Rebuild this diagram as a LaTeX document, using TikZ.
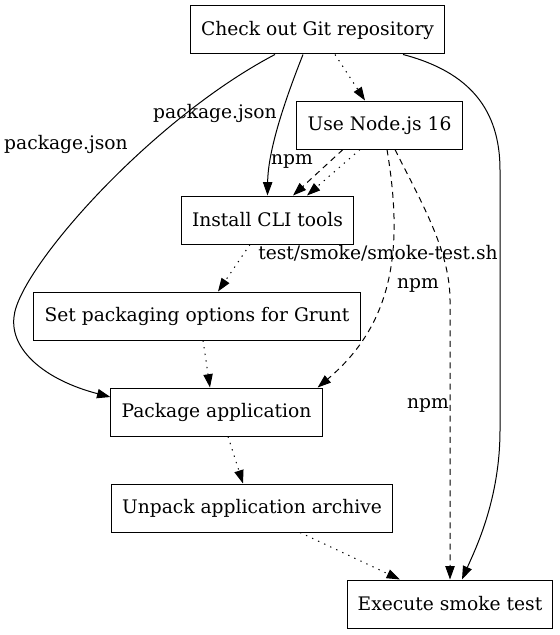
\documentclass[tikz,border=0pt]{standalone}
\usepackage{fontspec}
\setmainfont{DejaVu Serif}
\usepackage{tikz}
\usetikzlibrary{arrows.meta,calc}
\tikzstyle{task}=[draw,rectangle,line width=0.75pt,minimum height=36pt,inner xsep=8pt]
\tikzstyle{lbl}=[inner sep=0pt]

\begin{document}
\begin{tikzpicture}[x=0.75pt,y=-0.75pt,line width=0.75pt,
font=\fontsize{14}{17}\selectfont,
>={Triangle[length=10pt,width=7pt]},
dot/.style={dash pattern=on 1pt off 4pt},
dsh/.style={dash pattern=on 4.5pt off 3.5pt}]
\useasboundingbox (0,0) rectangle (560,635);

\node[task] (checkout) at (317.5,30) {Check out Git repository};
\node[task] (setupnode) at (379.5,125) {Use Node.js 16};
\node[task] (installcli) at (267.5,220) {Install CLI tools};
\node[task] (packopts) at (197,316) {Set packaging options for Grunt};
\node[task] (package) at (216.5,412) {Package application};
\node[task] (unpack) at (252,508) {Unpack application archive};
\node[task] (smoketest) at (450,604) {Execute smoke test};

% edge labels
\node[lbl] (lpkgtop) at (215,113) {package.json};
\node[lbl] (lpkgleft) at (66,144) {package.json};
\node[lbl] (lnpmcli) at (292,161) {npm};
\node[lbl] (lsmoke) at (378,253) {test/smoke/smoke-test.sh};
\node[lbl] (lnpmpack) at (418,285) {npm};
\node[lbl] (lnpmtest) at (428,405) {npm};

% step order
\draw[->,dot] ($(checkout.south)+(17.5,0)$) -- ($(setupnode.north)+(-14.5,0)$);
\draw[->,dot] ($(setupnode.south)+(-19.5,0)$) -- ($(installcli.north)+(39.5,0)$);
\draw[->,dot] ($(installcli.south)+(-17.5,0)$) -- ($(packopts.north)+(21,0)$);
\draw[->,dot] ($(packopts.south)+(6,0)$) -- ($(package.north)+(-6.5,0)$);
\draw[->,dot] ($(package.south)+(11.5,0)$) -- ($(unpack.north)+(-9,0)$);
\draw[->,dot] ($(unpack.south)+(48,0)$) -- ($(smoketest.north)+(-50,0)$);

% node setup
\draw[->,dsh] ($(setupnode.south)+(-36.5,0)$) -- ($(installcli.north)+(25.5,0)$);
\draw[->,dsh] ($(setupnode.south)+(7.5,0)$) .. controls (402,240) and (398,320) .. ($(package.north east)+(-5,0)$);
\draw[->,dsh] ($(setupnode.south)+(15.5,0)$) .. controls (420,200) and (450,250) .. (450,300) -- (smoketest.north);

% files from the checkout
\draw[->] ($(checkout.south)+(-14.5,0)$) .. controls (285,100) and (268,150) .. (installcli.north);
\draw[->] ($(checkout.south)+(-42.5,0)$) .. controls (150,120) and (18,270) .. (14,317)
  .. controls (10,350) and (45,380) .. ($(package.west)+(0,-15)$);
\draw[->] ($(checkout.south)+(85.5,0)$) .. controls (470,72) and (500,110) .. (500,170) -- (500,430)
  .. controls (500,500) and (475,550) .. ($(smoketest.north)+(12,0)$);

\end{tikzpicture}
\end{document}
